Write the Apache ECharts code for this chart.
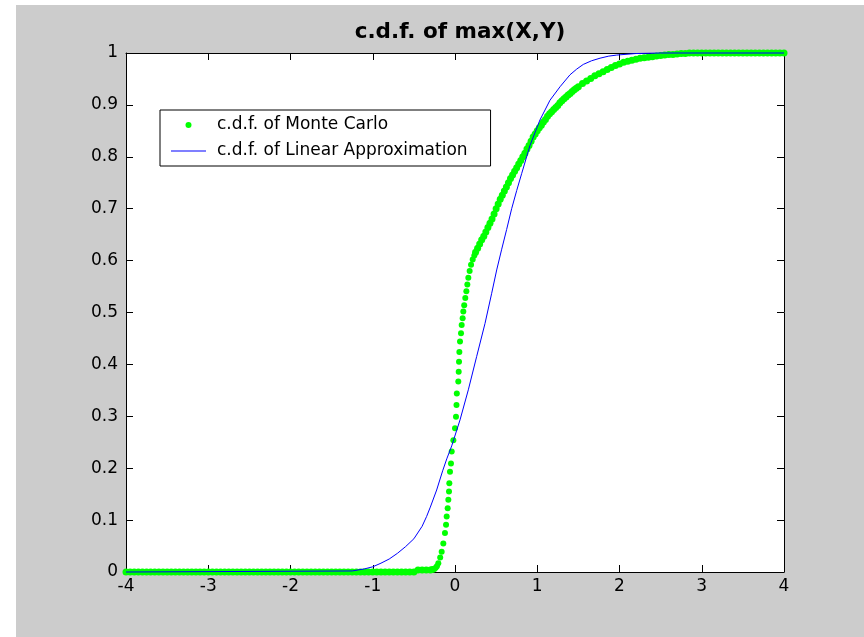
<!DOCTYPE html>
<html>
<head>
<meta charset="utf-8">
<script src="https://cdn.jsdelivr.net/npm/echarts@6/dist/echarts.min.js"></script>
<style>
html,body{margin:0;padding:0;background:#ffffff;}
#chart{position:absolute;left:16px;top:5px;width:848px;height:632px;}
</style>
</head>
<body>
<div id="chart"></div>
<script>
// ---- data ----
const titleText = 'c.d.f. of max(X,Y)';
const seriesNames = ['c.d.f. of Monte Carlo', 'c.d.f. of Linear Approximation'];
const xTicks = [-4, -3, -2, -1, 0, 1, 2, 3, 4];
const yTicks = [0, 0.1, 0.2, 0.3, 0.4, 0.5, 0.6, 0.7, 0.8, 0.9, 1];

// Monte Carlo c.d.f. (green dots): lower flat tail
const mcLowTail = [
[-4,0],[-3.95,0],[-3.9,0],[-3.85,0],[-3.8,0],[-3.75,0],[-3.7,0],[-3.65,0],[-3.6,0],[-3.55,0],
[-3.5,0],[-3.45,0],[-3.4,0],[-3.35,0],[-3.3,0],[-3.25,0],[-3.2,0],[-3.15,0],[-3.1,0],[-3.05,0],
[-3,0],[-2.95,0],[-2.9,0],[-2.85,0],[-2.8,0],[-2.75,0],[-2.7,0],[-2.65,0],[-2.6,0],[-2.55,0],
[-2.5,0],[-2.45,0],[-2.4,0],[-2.35,0],[-2.3,0],[-2.25,0],[-2.2,0],[-2.15,0],[-2.1,0],[-2.05,0],
[-2,0],[-1.95,0],[-1.9,0],[-1.85,0],[-1.8,0],[-1.75,0],[-1.7,0],[-1.65,0],[-1.6,0],[-1.55,0],
[-1.5,0],[-1.45,0],[-1.4,0],[-1.35,0],[-1.3,0],[-1.25,0],[-1.2,0],[-1.15,0],[-1.1,0],[-1.05,0],
[-1,0],[-0.95,0],[-0.9,0],[-0.85,0],[-0.8,0],[-0.75,0],[-0.7,0],[-0.65,0],[-0.6,0],[-0.55,0],
[-0.5,0],[-0.45,0.004],[-0.4,0.004],[-0.35,0.004],[-0.3,0.004],[-0.275,0.005]
];
// Monte Carlo c.d.f.: steep rise (individual dots)
const mcRise = [
[-0.25,0.006],[-0.235,0.008],[-0.22,0.011],[-0.203,0.017],[-0.18,0.028],[-0.162,0.039],
[-0.142,0.055],[-0.122,0.075],[-0.109,0.091],[-0.101,0.107],[-0.089,0.123],[-0.081,0.139],
[-0.073,0.155],[-0.069,0.171],[-0.061,0.193],[-0.049,0.209],[-0.040,0.232],[-0.020,0.254],
[0.000,0.277],[0.012,0.299],[0.018,0.322],[0.022,0.344],[0.040,0.367],[0.045,0.386],
[0.049,0.405],[0.053,0.424],[0.061,0.444],[0.073,0.460],[0.081,0.476],[0.093,0.489],
[0.101,0.502],[0.112,0.514],[0.125,0.528],[0.138,0.541],[0.150,0.554],[0.162,0.567],
[0.178,0.580],[0.195,0.592],[0.215,0.602],[0.235,0.610]
];
// Monte Carlo c.d.f.: upper part (dense band)
const mcUpper = [
[0.25,0.616],[0.275,0.624],[0.3,0.632],[0.325,0.64],[0.35,0.647],[0.375,0.655],[0.4,0.664],
[0.425,0.672],[0.45,0.68],[0.475,0.69],[0.5,0.7],[0.525,0.709],[0.55,0.718],[0.575,0.726],
[0.6,0.734],[0.625,0.742],[0.65,0.75],[0.675,0.758],[0.7,0.765],[0.725,0.772],[0.75,0.779],
[0.775,0.786],[0.8,0.793],[0.825,0.8],[0.85,0.807],[0.875,0.815],[0.9,0.822],[0.925,0.83],
[0.95,0.838],[0.975,0.844],[1,0.85],[1.025,0.856],[1.05,0.861],[1.075,0.867],[1.1,0.872],
[1.125,0.878],[1.15,0.883],[1.175,0.887],[1.2,0.891],[1.225,0.895],[1.25,0.899],[1.275,0.904],
[1.3,0.908],[1.325,0.912],[1.35,0.915],[1.375,0.919],[1.4,0.922],[1.425,0.926],[1.45,0.929],
[1.475,0.932],[1.5,0.935],[1.55,0.941],[1.6,0.946],[1.65,0.951],[1.7,0.956],[1.75,0.96],
[1.8,0.964],[1.85,0.968],[1.9,0.972],[1.95,0.976],[2,0.979],[2.05,0.982],[2.1,0.984],
[2.15,0.986],[2.2,0.988],[2.25,0.99],[2.3,0.991],[2.35,0.992],[2.4,0.993],[2.45,0.994],
[2.5,0.995],[2.55,0.996],[2.6,0.997],[2.65,0.997],[2.7,0.998],[2.75,0.999],[2.8,0.999],
[2.85,1],[2.9,1],[2.95,1],[3,1],[3.05,1],[3.1,1],[3.15,1],[3.2,1],[3.25,1],[3.3,1],[3.35,1],
[3.4,1],[3.45,1],[3.5,1],[3.55,1],[3.6,1],[3.65,1],[3.7,1],[3.75,1],[3.8,1],[3.85,1],[3.9,1],
[3.95,1],[4,1]
];
// Linear approximation c.d.f. (blue line)
const laPoints = [
[-4,0],[-1.25,0.002],[-1.1,0.006],[-1,0.01],[-0.9,0.017],[-0.8,0.025],[-0.7,0.036],[-0.6,0.049],
[-0.5,0.064],[-0.4,0.088],[-0.345,0.107],[-0.3,0.125],[-0.223,0.158],[-0.15,0.195],[-0.1,0.218],
[-0.04,0.243],[0.061,0.293],[0.162,0.351],[0.263,0.415],[0.365,0.479],[0.446,0.537],
[0.507,0.582],[0.568,0.622],[0.628,0.66],[0.689,0.70],[0.75,0.735],[0.811,0.768],[0.912,0.822],
[1.033,0.871],[1.155,0.909],[1.277,0.935],[1.398,0.958],[1.48,0.969],[1.56,0.978],[1.66,0.985],
[1.763,0.99],[1.87,0.994],[1.966,0.996],[2.2,0.999],[2.5,1],[4,1]
];

// ---- chart ----
const FONT = 'DejaVu Sans, Verdana, sans-serif';
const chart = echarts.init(document.getElementById('chart'), null, {renderer: 'canvas'});
const axisLine = {show: true, onZero: false, lineStyle: {color: '#000', width: 1}};
const axisTick = {show: true, inside: true, length: 7, lineStyle: {color: '#000', width: 1}};

const mcData = mcLowTail.map(p => ({value: p, symbolSize: 7}))
  .concat(mcRise.map(p => ({value: p, symbolSize: 6})))
  .concat(mcUpper.map(p => ({value: p, symbolSize: 7})));

chart.setOption({
  animation: false,
  backgroundColor: '#cccccc',
  title: {
    text: titleText,
    left: 444,
    top: 16,
    textAlign: 'center',
    padding: 0,
    textStyle: {fontFamily: FONT, fontSize: 21.5, fontWeight: 'bold', color: '#000'}
  },
  legend: {
    orient: 'vertical',
    left: 144,
    top: 105,
    backgroundColor: '#ffffff',
    borderColor: '#000',
    borderWidth: 1,
    borderRadius: 0,
    padding: [5, 23, 5, 11],
    itemWidth: 35,
    itemHeight: 6,
    itemGap: 6,
    textStyle: {fontFamily: FONT, fontSize: 17, color: '#000', lineHeight: 20, padding: [0, 0, 0, 6]},
    data: [
      {name: seriesNames[0], icon: 'circle'},
      {name: seriesNames[1], icon: 'path://M0,0L35,0L35,1L0,1Z'}
    ]
  },
  grid: {
    left: 110, top: 48, right: 80, bottom: 65,
    show: true, backgroundColor: '#ffffff', borderWidth: 0
  },
  xAxis: [
    {type: 'value', min: xTicks[0], max: xTicks[xTicks.length - 1], interval: 1, position: 'bottom',
     axisLine: axisLine, axisTick: axisTick, splitLine: {show: false},
     axisLabel: {color: '#000', fontFamily: FONT, fontSize: 17, margin: 6}},
    {type: 'value', min: xTicks[0], max: xTicks[xTicks.length - 1], interval: 1, position: 'top',
     axisLine: axisLine, axisTick: axisTick, splitLine: {show: false}, axisLabel: {show: false}}
  ],
  yAxis: [
    {type: 'value', min: yTicks[0], max: yTicks[yTicks.length - 1], interval: 0.1, position: 'left',
     axisLine: axisLine, axisTick: axisTick, splitLine: {show: false},
     axisLabel: {color: '#000', fontFamily: FONT, fontSize: 17, margin: 8}},
    {type: 'value', min: yTicks[0], max: yTicks[yTicks.length - 1], interval: 0.1, position: 'right',
     axisLine: axisLine, axisTick: axisTick, splitLine: {show: false}, axisLabel: {show: false}}
  ],
  series: [
    {
      name: seriesNames[0], type: 'scatter', xAxisIndex: 0, yAxisIndex: 0,
      data: mcData,
      symbol: 'circle', symbolSize: 6, clip: false,
      itemStyle: {color: '#00ff00', opacity: 1}, z: 2
    },
    {
      name: seriesNames[1], type: 'line', xAxisIndex: 0, yAxisIndex: 0,
      data: laPoints, symbol: 'none', showSymbol: false, clip: false,
      lineStyle: {color: '#0000ff', width: 1}, itemStyle: {color: '#0000ff'}, z: 3
    }
  ]
});
</script>
</body>
</html>
